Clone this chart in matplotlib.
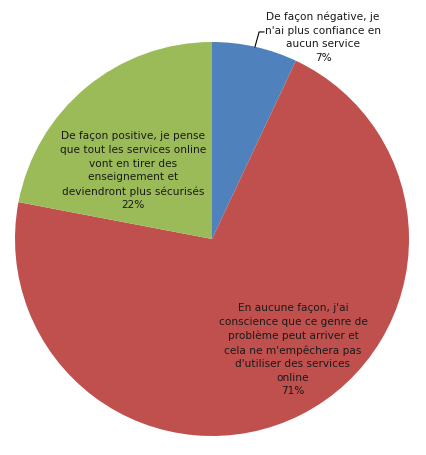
import matplotlib
matplotlib.use('Agg')
import matplotlib.pyplot as plt

# share of answers
labels = [
    "De façon négative, je\nn'ai plus confiance en\naucun service",
    "En aucune façon, j'ai\nconscience que ce genre de\nproblème peut arriver et\ncela ne m'empêchera pas\nd'utiliser des services\nonline",
    "De façon positive, je pense\nque tout les services online\nvont en tirer des\nenseignement et\ndeviendront plus sécurisés",
]
values = [7, 71, 22]
colors = ['#4F81BD', '#C0504D', '#9BBB59']

plt.rcParams['font.family'] = ['DejaVu Sans']

fig = plt.figure(figsize=(4.27, 4.56), dpi=100)
ax = fig.add_axes([15 / 427, 19 / 456, 394 / 427, 394 / 456])
ax.pie(values, colors=colors, startangle=90, counterclock=False,
       radius=1, wedgeprops=dict(linewidth=0))
ax.set_xlim(-1, 1)
ax.set_ylim(-1, 1)
ax.set_aspect('equal')
ax.axis('off')

# label positions (pie units)
pos = [(0.564, 1.030), (0.411, -0.558), (-0.401, 0.351)]
for lab, v, (x, y) in zip(labels, values, pos):
    ax.text(x, y, lab + "\n%d%%" % v, ha='center', va='center',
            fontsize=7.6, linespacing=1.45, color='#1a1a1a', clip_on=False)

# leader line for the small slice
ax.plot([0.218, 0.239, 0.264], [0.975, 1.051, 1.051], color='black',
        linewidth=0.8, clip_on=False)

fig.savefig('out.png', dpi=100)
